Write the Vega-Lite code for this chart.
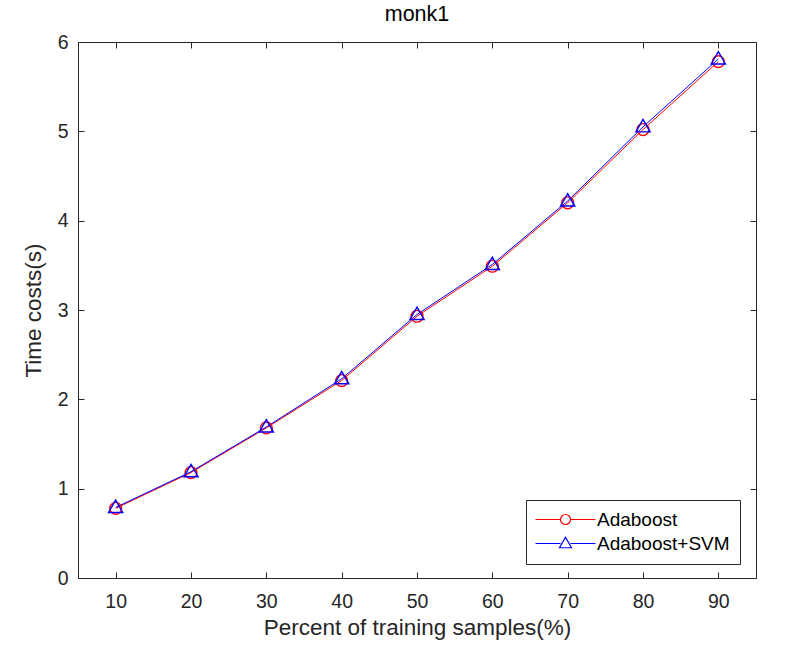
{
  "$schema": "https://vega.github.io/schema/vega-lite/v6.json",
  "autosize": "none",
  "width": 678,
  "height": 536,
  "padding": {"left": 78, "top": 42, "right": 47, "bottom": 84},
  "background": "white",
  "config": {
    "font": "Liberation Sans",
    "view": {"stroke": null},
    "axis": {
      "grid": false,
      "domainColor": "#262626",
      "tickColor": "#262626",
      "labelColor": "#262626",
      "titleColor": "#262626",
      "labelFontSize": 19.5,
      "titleFontSize": 22.5,
      "titleFontWeight": "normal",
      "tickSize": -6,
      "domainWidth": 1,
      "tickWidth": 1
    }
  },
  "title": {"text": "monk1", "fontSize": 21.5, "fontWeight": "normal", "color": "#000000", "offset": 7},
  "data": {
    "values": [
      {"pct": 10, "time": 0.78, "method": "Adaboost"},
      {"pct": 20, "time": 1.18, "method": "Adaboost"},
      {"pct": 30, "time": 1.68, "method": "Adaboost"},
      {"pct": 40, "time": 2.21, "method": "Adaboost"},
      {"pct": 50, "time": 2.93, "method": "Adaboost"},
      {"pct": 60, "time": 3.49, "method": "Adaboost"},
      {"pct": 70, "time": 4.20, "method": "Adaboost"},
      {"pct": 80, "time": 5.02, "method": "Adaboost"},
      {"pct": 90, "time": 5.78, "method": "Adaboost"},
      {"pct": 10, "time": 0.79, "method": "Adaboost+SVM"},
      {"pct": 20, "time": 1.19, "method": "Adaboost+SVM"},
      {"pct": 30, "time": 1.69, "method": "Adaboost+SVM"},
      {"pct": 40, "time": 2.23, "method": "Adaboost+SVM"},
      {"pct": 50, "time": 2.95, "method": "Adaboost+SVM"},
      {"pct": 60, "time": 3.51, "method": "Adaboost+SVM"},
      {"pct": 70, "time": 4.22, "method": "Adaboost+SVM"},
      {"pct": 80, "time": 5.05, "method": "Adaboost+SVM"},
      {"pct": 90, "time": 5.81, "method": "Adaboost+SVM"}
    ]
  },
  "resolve": {"axis": {"x": "independent", "y": "independent"}},
  "layer": [
    {
      "mark": {"type": "line", "strokeWidth": 1},
      "encoding": {
        "x": {"field": "pct", "type": "quantitative",
              "scale": {"domain": [5, 95], "nice": false, "zero": false},
              "axis": {"values": [10, 20, 30, 40, 50, 60, 70, 80, 90], "title": "Percent of training samples(%)", "labelPadding": 20, "titlePadding": 6}},
        "y": {"field": "time", "type": "quantitative",
              "scale": {"domain": [0, 6], "nice": false},
              "axis": {"values": [0, 1, 2, 3, 4, 5, 6], "title": "Time costs(s)", "labelPadding": 16, "titlePadding": 12}},
        "stroke": {"field": "method", "type": "nominal",
                  "scale": {"range": ["#ff0000", "#0000ff"]},
                  "legend": {
                    "title": null,
                    "orient": "none",
                    "legendX": 448,
                    "legendY": 458,
                    "padding": 10,
                    "labelFontSize": 19,
                    "labelOpacity": 0,
                    "labelOffset": 22,
                    "rowPadding": 4,
                    "symbolSize": 100,
                    "symbolOffset": 20,
                    "symbolStrokeWidth": 1,
                    "symbolType": "M-6,0H-1M1,0H6"
                  }}
      }
    },
    {
      "mark": {"type": "point", "filled": false, "strokeWidth": 1.4, "size": 140, "opacity": 1},
      "encoding": {
        "x": {"field": "pct", "type": "quantitative", "axis": null},
        "y": {"field": "time", "type": "quantitative", "axis": null},
        "color": {"field": "method", "type": "nominal",
                  "scale": {"domain": ["Adaboost", "Adaboost+SVM"], "range": ["#ff0000", "#0000ff"]},
                  "legend": {
                    "title": null,
                    "orient": "none",
                    "legendX": 448,
                    "legendY": 458,
                    "padding": 10,
                    "strokeColor": "#262626",
                    "labelFontSize": 19,
                    "labelColor": "#000000",
                    "labelOffset": 22,
                    "rowPadding": 4,
                    "symbolSize": 100,
                    "symbolOffset": 20,
                    "symbolStrokeWidth": 1.2
                  }},
        "shape": {"field": "method", "type": "nominal",
                  "scale": {"domain": ["Adaboost", "Adaboost+SVM"], "range": ["circle", "M0,-1.25L1.2,0.85L-1.2,0.85Z"]}}
      }
    },
    {
      "mark": {"type": "point", "opacity": 0},
      "encoding": {
        "x": {"field": "pct", "type": "quantitative",
              "axis": {"orient": "top", "values": [10, 20, 30, 40, 50, 60, 70, 80, 90], "labels": false, "title": null}},
        "y": {"field": "time", "type": "quantitative",
              "axis": {"orient": "right", "values": [0, 1, 2, 3, 4, 5, 6], "labels": false, "title": null}}
      }
    }
  ]
}
